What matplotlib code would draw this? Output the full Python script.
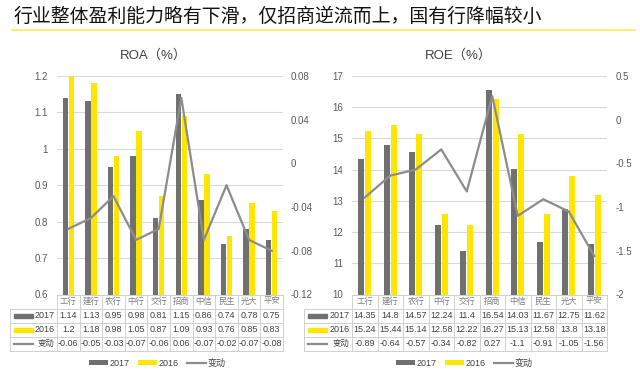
import matplotlib
matplotlib.use("Agg")
import matplotlib.pyplot as plt
from matplotlib.patches import Rectangle
from matplotlib.lines import Line2D

plt.rcParams['font.family'] = ['Liberation Sans', 'Noto Sans CJK SC']
plt.rcParams['axes.unicode_minus'] = False

# ---------------- data ----------------
banks = ['工行', '建行', '农行', '中行', '交行', '招商', '中信', '民生', '光大', '平安']
roa_2017 = [1.14, 1.13, 0.95, 0.98, 0.81, 1.15, 0.86, 0.74, 0.78, 0.75]
roa_2016 = [1.2, 1.18, 0.98, 1.05, 0.87, 1.09, 0.93, 0.76, 0.85, 0.83]
roa_chg = [-0.06, -0.05, -0.03, -0.07, -0.06, 0.06, -0.07, -0.02, -0.07, -0.08]
roe_2017 = [14.35, 14.8, 14.57, 12.24, 11.4, 16.54, 14.03, 11.67, 12.75, 11.62]
roe_2016 = [15.24, 15.44, 15.14, 12.58, 12.22, 16.27, 15.13, 12.58, 13.8, 13.18]
roe_chg = [-0.89, -0.64, -0.57, -0.34, -0.82, 0.27, -1.1, -0.91, -1.05, -1.56]

roa_left_ticks = [0.6, 0.7, 0.8, 0.9, 1.0, 1.1, 1.2]
roa_right_ticks = [-0.12, -0.08, -0.04, 0.0, 0.04, 0.08]
roe_left_ticks = [10, 11, 12, 13, 14, 15, 16, 17]
roe_right_ticks = [-2, -1.5, -1, -0.5, 0, 0.5]

title = '行业整体盈利能力略有下滑，仅招商逆流而上，国有行降幅较小'
series_labels = ['2017', '2016', '变动']

GRAY = '#707070'
LGRAY = '#8c8c8c'
YELLOW = '#FFE600'
TXT = '#595959'
GRID = '#d9d9d9'

W, H = 640, 377
fig = plt.figure(figsize=(W / 100, H / 100), dpi=100)


def px_axes(x0, y0, x1, y1):
    return fig.add_axes([x0 / W, 1 - y1 / H, (x1 - x0) / W, (y1 - y0) / H])


def fmt(v):
    return f'{round(v, 4):g}'


def panel(x0, x1, lab_x0, name, name_cx, v17, v16, chg, lt, rt, lpad, rpad, leg_cx):
    ax = px_axes(x0, 76, x1, 294.5)
    n = len(banks)
    xs = list(range(n))
    b1 = ax.bar([x - 0.135 for x in xs], v17, width=0.24, color=GRAY, zorder=2)
    b2 = ax.bar([x + 0.135 for x in xs], v16, width=0.24, color=YELLOW, zorder=2)
    ax.set_xlim(-0.5, n - 0.5)
    ax.set_ylim(lt[0], lt[-1])
    ax.set_yticks(lt)
    ax.set_yticklabels([fmt(t) for t in lt])
    ax.set_xticks([])
    ax.yaxis.grid(True, color=GRID, lw=0.8)
    ax.set_axisbelow(True)
    for s in ax.spines.values():
        s.set_visible(False)
    ax.tick_params(axis='y', length=0, pad=lpad, labelsize=7, labelcolor=TXT)

    ax2 = ax.twinx()
    ln, = ax2.plot(xs, chg, color=LGRAY, lw=1.6, zorder=3)
    ax2.set_ylim(rt[0], rt[-1])
    ax2.set_yticks(rt)
    ax2.set_yticklabels([fmt(t) for t in rt])
    for s in ax2.spines.values():
        s.set_visible(False)
    ax2.tick_params(axis='y', length=0, pad=rpad, labelsize=7, labelcolor=TXT)

    fig.text(name_cx / W, 1 - 55 / H, name, ha='center', va='center',
             fontsize=9.5, color='#404040')

    # table
    colw = (x1 - x0) / n
    extra = (x0 - lab_x0) / colw
    tax = px_axes(lab_x0, 294.5, x1, 350.5)
    tax.set_xlim(-0.5 - extra, n - 0.5)
    tax.set_ylim(4, 0)
    tax.axis('off')
    bc = '#d0d0d0'
    lw = 0.7
    xl = -0.5 - extra + 0.02
    for y in [1, 2, 3, 4]:
        tax.plot([xl, n - 0.5], [y, y], color=bc, lw=lw, clip_on=False)
    tax.plot([-0.5, n - 0.5], [0, 0], color=bc, lw=lw, clip_on=False)
    tax.plot([xl, xl], [1, 4], color=bc, lw=lw, clip_on=False)
    for k in range(n + 1):
        xk = -0.5 + k
        tax.plot([xk, xk], [0, 4], color=bc, lw=lw, clip_on=False)
    for i, b in enumerate(banks):
        tax.text(i, 0.5, b, ha='center', va='center', fontsize=6, color='#7f7f7f')
        tax.text(i, 1.5, fmt(v17[i]), ha='center', va='center', fontsize=6.5, color='#404040')
        tax.text(i, 2.5, fmt(v16[i]), ha='center', va='center', fontsize=6.5, color='#404040')
        tax.text(i, 3.5, fmt(chg[i]), ha='center', va='center', fontsize=6.5, color='#404040')
    # row labels
    mk0 = xl + 4 / colw
    mk1 = mk0 + 19 / colw
    tr = -0.5 - 2.5 / colw
    tax.add_patch(Rectangle((mk0, 1.36), mk1 - mk0, 0.3, color=GRAY, clip_on=False))
    tax.add_patch(Rectangle((mk0, 2.36), mk1 - mk0, 0.3, color=YELLOW, clip_on=False))
    tax.plot([mk0, mk1], [3.5, 3.5], color=LGRAY, lw=1.6, clip_on=False)
    for r, lab in enumerate(series_labels):
        tax.text(tr, r + 1.5, lab, ha='right', va='center',
                 fontsize=6.5 if r < 2 else 6, color='#404040')

    fig.legend([b1, b2, ln], series_labels, loc='center',
               bbox_to_anchor=(leg_cx / W, 1 - 363 / H), ncol=3, frameon=False,
               fontsize=6.5, handlelength=2.1, handleheight=0.45,
               columnspacing=0.9, handletextpad=0.2, labelcolor='#404040')


panel(57, 283, 10, 'ROA（%）', 153, roa_2017, roa_2016, roa_chg,
      roa_left_ticks, roa_right_ticks, 6.5, 5.5, 157)
panel(352, 607, 303, 'ROE（%）', 458, roe_2017, roe_2016, roe_chg,
      roe_left_ticks, roe_right_ticks, 6.5, 6.0, 464)

fig.text(14 / W, 1 - 16 / H, title, ha='left', va='center', fontsize=13.6,
         color='#111111', family=['Noto Sans CJK SC'])
fig.add_artist(Line2D([12 / W, 635 / W], [1 - 30 / H, 1 - 30 / H],
                      color='#FFE866', lw=1.3))

fig.savefig('out.png', dpi=100)
